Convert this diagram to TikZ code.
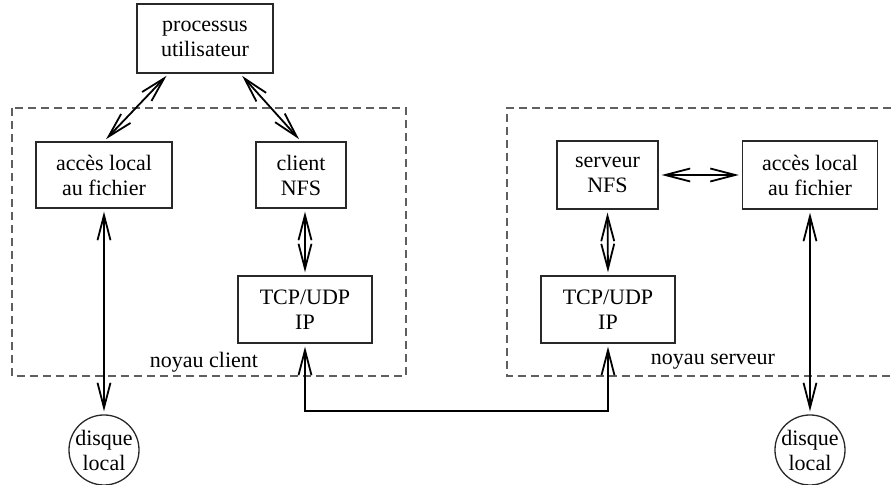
\documentclass[tikz,border=0pt]{standalone}
\usepackage{fontspec}
\setmainfont{Liberation Serif}
\usepackage{xcolor}
\usepackage{tikz}
\usetikzlibrary{arrows.meta}
\definecolor{trait_gris}{RGB}{95, 95, 95}
\definecolor{bord_boite}{RGB}{40, 40, 40}

\tikzset{
  boite/.style={draw=bord_boite, line width=0.65pt, align=center, inner sep=0pt},
  disque/.style={draw=bord_boite, line width=0.65pt, circle, minimum size=33pt,
                 inner sep=0pt, align=center},
  noyau/.style={draw=trait_gris, line width=0.6pt, dash pattern=on 4pt off 2.5pt},
  fleche/.style={line width=0.9pt, {Straight Barb[length=12.5pt,width=6.5pt]}-{Straight Barb[length=12.5pt,width=6.5pt]},
                 shorten <=1.5pt, shorten >=1.5pt}
}

\begin{document}
\begin{tikzpicture}[x=0.5pt, y=-0.5pt, font=\fontsize{11}{12.5}\selectfont]
  \useasboundingbox (0,0) rectangle (891,485);

  % les deux noyaux
  \draw[noyau] (12,108) rectangle (406,376);
  \draw[noyau] (891,108) -| (507,376) -- (891,376);

  \node[boite, minimum width=68pt, minimum height=34.5pt] (proc) at (205,38.5)
    {processus\\utilisateur};

  % cote client
  \node[boite, minimum width=68pt, minimum height=33pt] (accesG) at (104,175)
    {accès local\\au fichier};
  \node[boite, minimum width=45pt, minimum height=33pt] (client) at (301,175)
    {client\\NFS};
  \node[boite, minimum width=67pt, minimum height=33.5pt] (tcpG) at (305,309.5)
    {TCP/UDP\\IP};
  \node[disque] (disqueG) at (104,450) {disque\\local};
  \node (noyauC) at (204,362) {noyau client};

  % cote serveur
  \node[boite, minimum width=50.5pt, minimum height=34pt] (serveur) at (607.5,175)
    {serveur\\NFS};
  \node[boite, minimum width=67.5pt, minimum height=34pt] (accesD) at (810,175)
    {accès local\\au fichier};
  \node[boite, minimum width=67pt, minimum height=33.5pt] (tcpD) at (608,309.5)
    {TCP/UDP\\IP};
  \node[disque] (disqueD) at (810,450) {disque\\local};
  \node (noyauS) at (713,362) {noyau serveur};

  % liaisons
  \draw[fleche] (proc.224) -- (accesG.north);
  \draw[fleche] (proc.-45) -- (client.north);
  \draw[fleche] (tcpG.north |- client.south) -- (tcpG.north);
  \draw[fleche] (accesG.south) -- (disqueG.north);
  \draw[fleche] (tcpG.south) -- ++(0,67) -| (tcpD.south);
  \draw[fleche] (serveur.south) -- (tcpD.north);
  \draw[fleche] (serveur.east) -- (accesD.west);
  \draw[fleche] (accesD.south) -- (disqueD.north);
\end{tikzpicture}
\end{document}
